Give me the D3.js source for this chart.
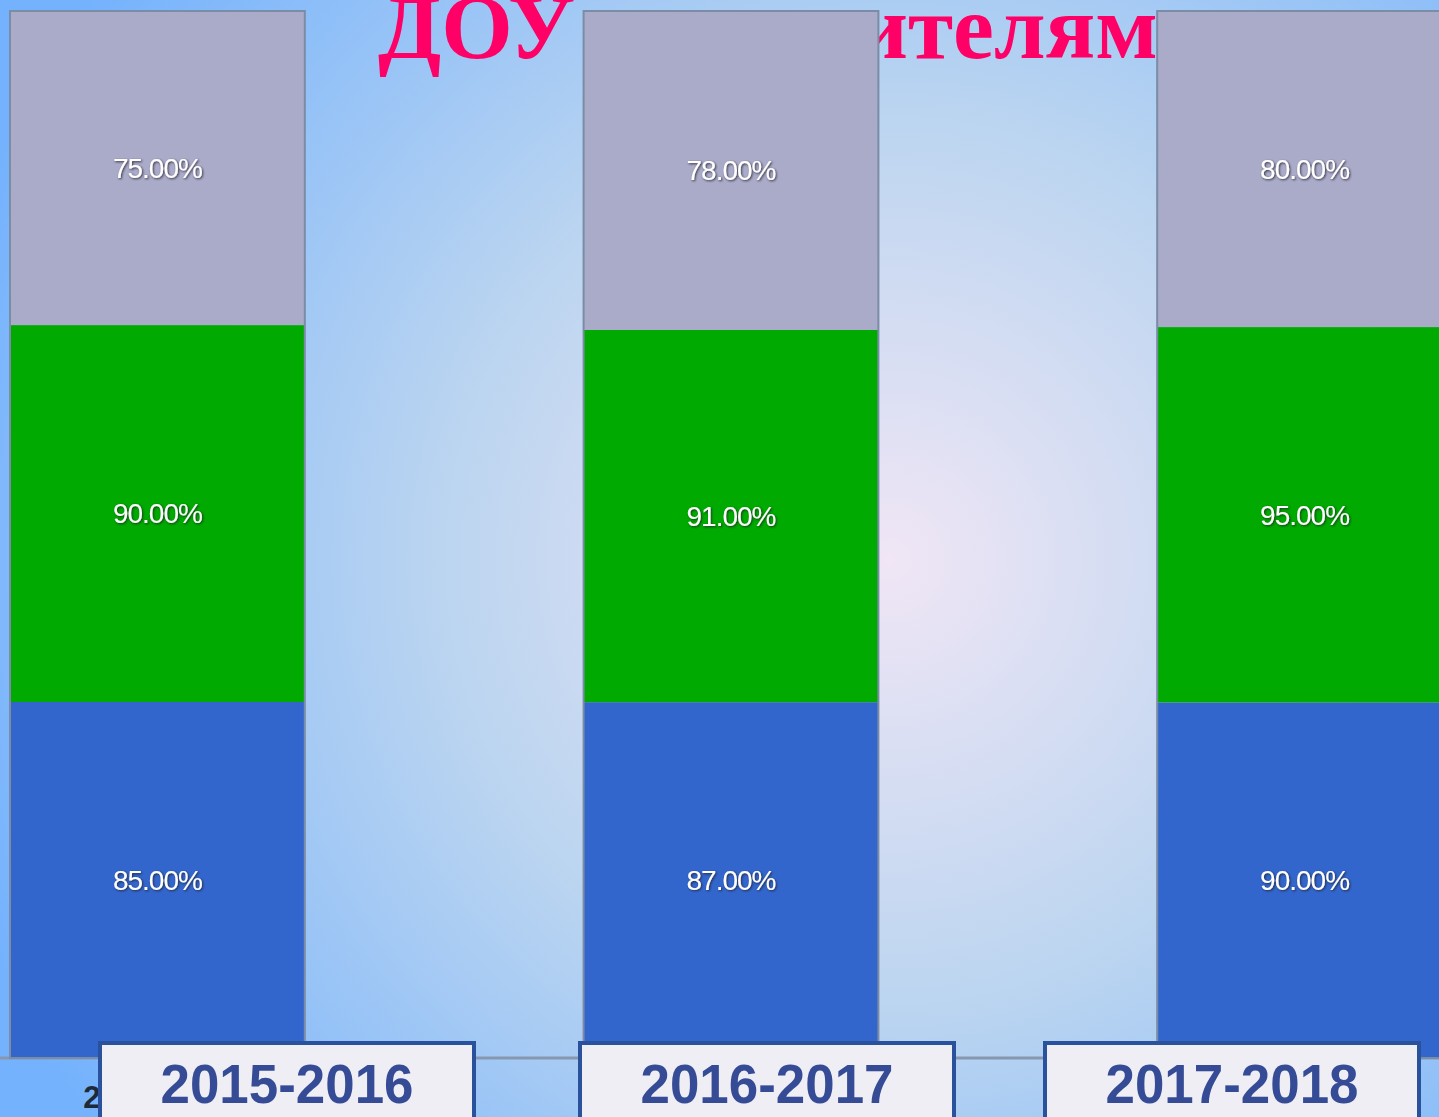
<!DOCTYPE html>
<html>
<head>
<meta charset="utf-8">
<script src="https://cdn.jsdelivr.net/npm/d3@7"></script>
<style>
  html, body { margin: 0; padding: 0; overflow: hidden; }
  svg { display: block; }
</style>
</head>
<body>
<div id="chart"></div>
<script>
// data
const years = ["2015-2016", "2016-2017", "2017-2018"];
const seriesNames = ["s1", "s2", "s3"];
const blueValues = [85, 87, 90];
const greenValues = [90, 91, 95];
const grayValues = [75, 78, 80];
const seriesColors = ["#3366cc", "#00aa00", "#aaaac9"];

const W = 1439, H = 1117;
const svg = d3.select("#chart").append("svg").attr("width", W).attr("height", H);
const defs = svg.append("defs");

// фон: радиальный градиент
const bg = defs.append("radialGradient").attr("id", "bg")
  .attr("gradientUnits", "userSpaceOnUse")
  .attr("cx", 890).attr("cy", 560).attr("r", 980);
bg.append("stop").attr("offset", "0").attr("stop-color", "#f0e6f5");
bg.append("stop").attr("offset", "0.45").attr("stop-color", "#bcd5f0");
bg.append("stop").attr("offset", "1").attr("stop-color", "#74b2fd");
svg.append("rect").attr("width", W).attr("height", H).attr("fill", "url(#bg)");

const shadow = defs.append("filter").attr("id", "lblShadow")
  .attr("x", "-20%").attr("y", "-40%").attr("width", "140%").attr("height", "180%");
shadow.append("feDropShadow").attr("dx", 1).attr("dy", 1).attr("stdDeviation", 1.3)
  .attr("flood-color", "#1a1a2a").attr("flood-opacity", 0.85);

// заголовок (частично закрыт столбцами)
const title = svg.append("g").attr("fill", "#ff0066")
  .style("font-family", "'Liberation Serif', 'Times New Roman', serif")
  .style("font-weight", "bold").style("font-size", "92px");
title.append("text").attr("x", 318).attr("y", 17).attr("textLength", 32).text("–");
title.append("text").attr("x", 378).attr("y", 58).text("ДОУ");
title.append("text").attr("x", 1158).attr("y", 58).attr("text-anchor", "end").text("родителям");

// данные для стека
const table = years.map((y, i) => ({ year: y, s1: blueValues[i], s2: greenValues[i], s3: grayValues[i] }));
const stacked = d3.stack().keys(seriesNames).offset(d3.stackOffsetExpand)(table);

const x = d3.scaleBand().domain(years).range([10, 1452]).paddingInner(0.486).paddingOuter(0);
const y = d3.scaleLinear().domain([0, 1]).range([1058, 11]);

// подписи оси (почти полностью скрыты рамками)
svg.append("g").attr("transform", "translate(0,1058)")
  .call(d3.axisBottom(x).tickSize(0).tickPadding(28))
  .call(g => g.select(".domain").remove())
  .selectAll("text")
    .style("font-family", "'Liberation Sans', Arial, sans-serif")
    .style("font-weight", "bold").style("font-size", "31px").attr("fill", "#1e2a3a");

// линия оси
svg.append("line").attr("x1", 0).attr("x2", W).attr("y1", 1058).attr("y2", 1058)
  .attr("stroke", "#8797b0").attr("stroke-width", 3);

// столбцы
const layers = svg.selectAll(".layer").data(stacked).join("g")
  .attr("class", "layer").attr("fill", (d, i) => seriesColors[i]);
layers.selectAll("rect").data(d => d.map(p => Object.assign(p, { key: d.key }))).join("rect")
  .attr("x", d => x(d.data.year))
  .attr("y", d => y(d[1]))
  .attr("width", x.bandwidth())
  .attr("height", d => y(d[0]) - y(d[1]));

// контур столбцов
svg.selectAll(".barOutline").data(years).join("rect")
  .attr("class", "barOutline")
  .attr("x", d => x(d)).attr("y", y(1))
  .attr("width", x.bandwidth()).attr("height", y(0) - y(1))
  .attr("fill", "none").attr("stroke", "#7b8ca6").attr("stroke-width", 2);

// подписи значений
const fmt = d3.format(".2f");
layers.selectAll("text").data(d => d).join("text")
  .attr("x", d => x(d.data.year) + x.bandwidth() / 2)
  .attr("y", d => (y(d[0]) + y(d[1])) / 2)
  .attr("dy", "0.35em")
  .attr("text-anchor", "middle")
  .attr("fill", "#ffffff")
  .attr("filter", "url(#lblShadow)")
  .style("font-family", "'Liberation Sans', Arial, sans-serif")
  .style("font-size", "28px")
  .style("letter-spacing", "-1px")
  .text(d => fmt(d.data[d.key]) + "%");

// рамки с годами
const boxLeft = [98, 578, 1043];
const boxes = svg.selectAll(".yearBox").data(years).join("g")
  .attr("class", "yearBox")
  .attr("transform", (d, i) => `translate(${boxLeft[i]},1041)`);
boxes.append("rect").attr("x", 2).attr("y", 2).attr("width", 374).attr("height", 80)
  .attr("fill", "#efeef5").attr("stroke", "#2a519c").attr("stroke-width", 4);
boxes.append("text").attr("x", 189).attr("y", 62).attr("text-anchor", "middle")
  .attr("textLength", 253).attr("lengthAdjust", "spacingAndGlyphs")
  .attr("fill", "#354b96")
  .style("font-family", "'Liberation Sans', Arial, sans-serif")
  .style("font-weight", "bold").style("font-size", "56px")
  .text(d => d);
</script>
</body>
</html>
